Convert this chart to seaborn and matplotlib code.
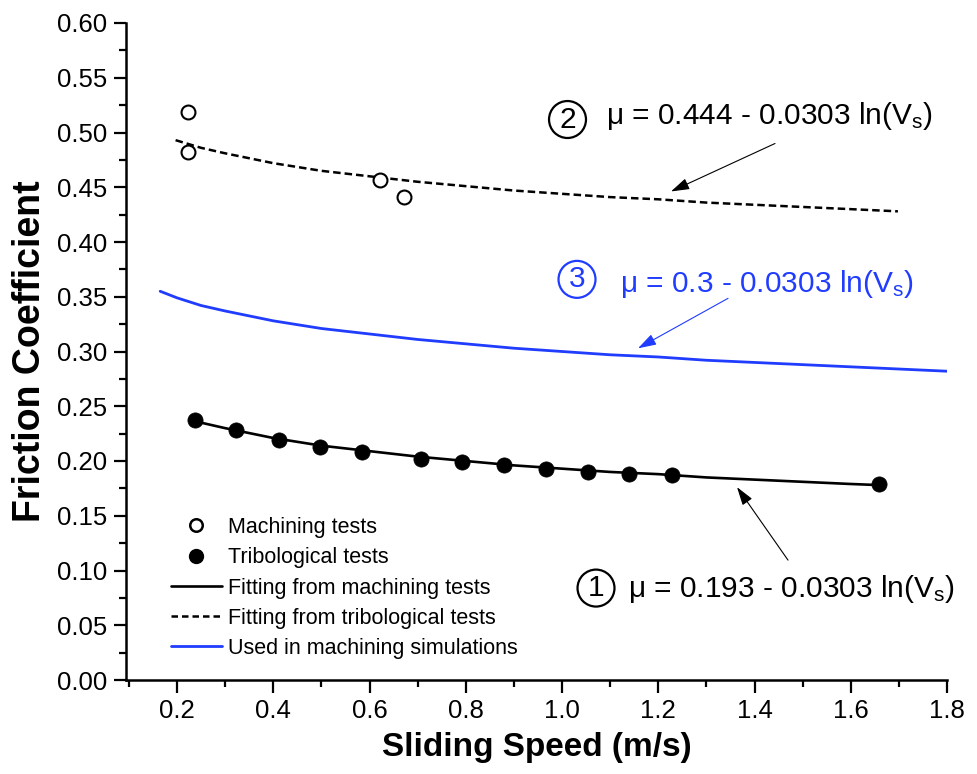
import numpy as np
import pandas as pd
import matplotlib
matplotlib.use("Agg")
import matplotlib.pyplot as plt
import seaborn as sns
from matplotlib.lines import Line2D

# ---------------- data ----------------
mach_x = [0.222, 0.222, 0.622, 0.672]
mach_y = [0.519, 0.482, 0.457, 0.441]

trib_x = [0.237, 0.323, 0.411, 0.497, 0.584, 0.707, 0.793, 0.880, 0.966, 1.053, 1.140, 1.228, 1.659]
trib_y = [0.237, 0.228, 0.219, 0.213, 0.208, 0.202, 0.199, 0.196, 0.193, 0.190, 0.188, 0.187, 0.179]

fit1_x = [0.237, 0.25, 0.3, 0.4, 0.5, 0.6, 0.7, 0.8, 0.9, 1.0, 1.1, 1.2, 1.3, 1.4, 1.5, 1.6, 1.659]
fit1_y = [0.237, 0.235, 0.230, 0.221, 0.214, 0.209, 0.204, 0.200, 0.196, 0.193, 0.190, 0.188, 0.185,
          0.183, 0.181, 0.179, 0.178]

fit2_x = [0.197, 0.25, 0.3, 0.4, 0.5, 0.6, 0.7, 0.8, 0.9, 1.0, 1.1, 1.2, 1.3, 1.4, 1.5, 1.6, 1.698]
fit2_y = [0.493, 0.486, 0.481, 0.472, 0.465, 0.460, 0.455, 0.451, 0.447, 0.444, 0.441, 0.439, 0.436,
          0.434, 0.432, 0.430, 0.428]

sim_x = [0.165, 0.2, 0.25, 0.3, 0.4, 0.5, 0.6, 0.7, 0.8, 0.9, 1.0, 1.1, 1.2, 1.3, 1.4, 1.5, 1.6, 1.7, 1.8]
sim_y = [0.355, 0.349, 0.342, 0.337, 0.328, 0.321, 0.316, 0.311, 0.307, 0.303, 0.300, 0.297, 0.295,
         0.292, 0.290, 0.288, 0.286, 0.284, 0.282]

legend_labels = ["Machining tests", "Tribological tests", "Fitting from machining tests",
                 "Fitting from tribological tests", "Used in machining simulations"]
eq_numbers = ["1", "2", "3"]
eq_texts = ["μ = 0.193 - 0.0303 ln(V$_\\mathregular{s}$)",
            "μ = 0.444 - 0.0303 ln(V$_\\mathregular{s}$)",
            "μ = 0.3 - 0.0303 ln(V$_\\mathregular{s}$)"]

x_ticks = [0.2, 0.4, 0.6, 0.8, 1.0, 1.2, 1.4, 1.6, 1.8]
y_ticks = [0.00, 0.05, 0.10, 0.15, 0.20, 0.25, 0.30, 0.35, 0.40, 0.45, 0.50, 0.55, 0.60]

# ---------------- style ----------------
sns.set_style("ticks")
plt.rcParams["font.family"] = ["Liberation Sans", "DejaVu Sans"]
plt.rcParams["mathtext.default"] = "regular"
plt.rcParams["mathtext.fontset"] = "custom"
plt.rcParams["mathtext.rm"] = "Liberation Sans"
plt.rcParams["text.color"] = "black"
plt.rcParams["axes.labelcolor"] = "black"

BLUE = "#1f3cff"

W, H = 978, 774
fig = plt.figure(figsize=(W / 100, H / 100), dpi=100)
ax = fig.add_axes([126.5 / W, 1 - 680 / H, (947 - 126.5) / W, (680 - 23) / H])

sns.lineplot(x=sim_x, y=sim_y, ax=ax, color=BLUE, lw=2.0, sort=False, zorder=2)
sns.lineplot(x=fit2_x, y=fit2_y, ax=ax, color="black", lw=1.8, sort=False, zorder=2)
ax.lines[-1].set_dashes((3.0, 1.6))
sns.lineplot(x=fit1_x, y=fit1_y, ax=ax, color="black", lw=1.9, sort=False, zorder=2)
sns.scatterplot(x=trib_x, y=trib_y, ax=ax, color="black", s=120, edgecolor="black",
                linewidth=0.5, zorder=3)
sns.scatterplot(x=mach_x, y=mach_y, ax=ax, facecolor="white", s=100, edgecolor="black",
                linewidth=1.5, zorder=3)

ax.set_xlim(0.095, 1.8)
ax.set_ylim(0.0, 0.60)
ax.set_xticks(x_ticks)
ax.set_xticklabels([f"{v:.1f}" for v in x_ticks])
ax.set_xticks(np.arange(0.1, 1.8, 0.2), minor=True)
ax.set_yticks(y_ticks)
ax.set_yticklabels([f"{v:.2f}" for v in y_ticks])
ax.set_yticks(np.arange(0.025, 0.6, 0.05), minor=True)

for s in ["top", "right"]:
    ax.spines[s].set_visible(False)
for s in ["left", "bottom"]:
    ax.spines[s].set_linewidth(1.8)
    ax.spines[s].set_color("black")

ax.tick_params(axis="both", which="major", direction="out", length=9, width=1.6,
               labelsize=18.5, color="black", labelcolor="black")
ax.tick_params(axis="both", which="minor", direction="out", length=5, width=1.6, color="black")
ax.tick_params(axis="x", which="major", pad=5)
ax.tick_params(axis="y", which="major", pad=5)

ax.set_xlabel("Sliding Speed (m/s)", fontsize=24, fontweight="bold", labelpad=6)
ax.set_ylabel("Friction Coefficient", fontsize=27, fontweight="bold", labelpad=6)

# ---------------- legend ----------------
handles = [
    Line2D([], [], ls="none", marker="o", ms=9, mfc="white", mec="black", mew=1.8),
    Line2D([], [], ls="none", marker="o", ms=10, mfc="black", mec="black"),
    Line2D([], [], color="black", lw=1.9),
    Line2D([], [], color="black", lw=1.8, ls=(0, (2.6, 1.6))),
    Line2D([], [], color=BLUE, lw=2.0),
]
leg = ax.legend(handles, legend_labels, loc="upper left",
                bbox_to_anchor=(171 / W, 1 - 517 / H), bbox_transform=fig.transFigure,
                frameon=False, fontsize=15.5, handlelength=2.35, handletextpad=0.3,
                labelspacing=0.43, borderpad=0, borderaxespad=0)

# ---------------- annotations ----------------
def px2data(px, py):
    x = 0.2 + (px - 177) / 481.25
    y = (680 - py) / 1096.0
    return x, y

ann = [
    # circle center, text left/baseline, arrow tail, arrow head, color
    ((596, 588), (628, 597), (788, 560), (737, 487), "black"),
    ((567.5, 119), (606, 123), (775, 143), (671, 191), "black"),
    ((577, 279), (620, 292), (728, 298), (638, 348), BLUE),
]
for (num, txt, a) in zip(eq_numbers, eq_texts, ann):
    cc, tl, tail, head, col = a
    cx, cy = px2data(*cc)
    ax.text(cx, cy, num, fontsize=21.5, color=col, ha="center", va="center",
            bbox=dict(boxstyle="circle,pad=0.15", fc="none", ec=col, lw=1.6), zorder=5)
    tx, ty = px2data(*tl)
    ax.text(tx, ty, txt, fontsize=21.5, color=col, ha="left", va="baseline", zorder=5)
    hx, hy = px2data(*head)
    sx, sy = px2data(*tail)
    ax.annotate("", xy=(hx, hy), xytext=(sx, sy),
                arrowprops=dict(arrowstyle="-|>,head_length=0.7,head_width=0.22",
                                color=col, lw=0.8, mutation_scale=16,
                                shrinkA=0, shrinkB=0), zorder=5)

fig.savefig("out.png", dpi=100)
